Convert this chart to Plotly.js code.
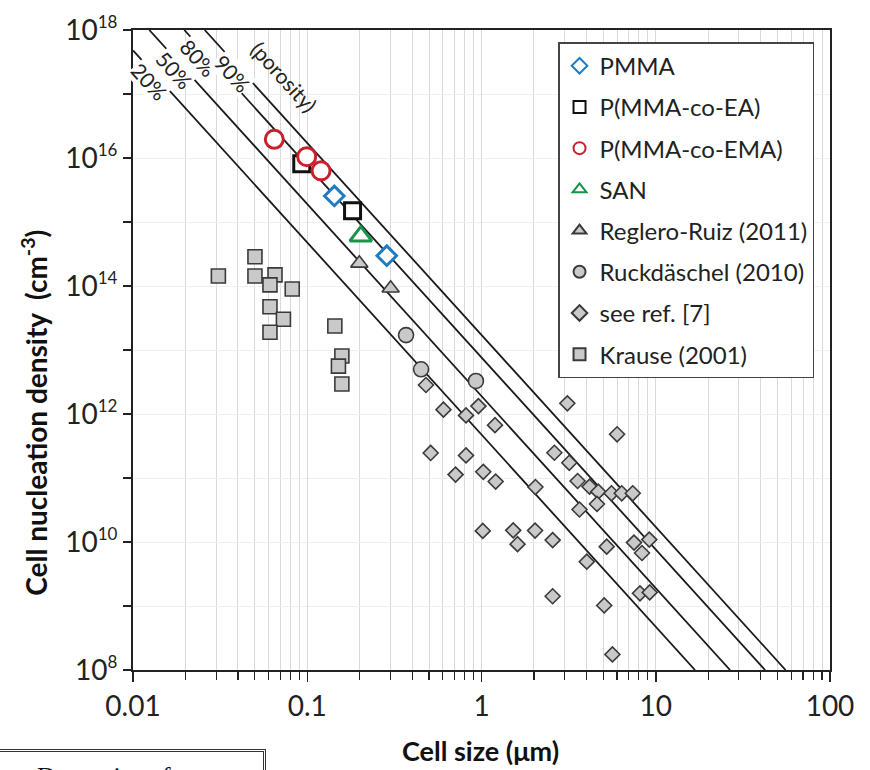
<!DOCTYPE html>
<html><head><meta charset="utf-8">
<script src="https://cdn.plot.ly/plotly-3.0.1.min.js"></script>
<style>
html,body{margin:0;padding:0;background:#fff;overflow:hidden;width:870px;height:770px;}
#chart{position:absolute;left:0;top:0;width:870px;height:770px;}
#note{position:absolute;left:-4px;top:749px;width:270px;height:60px;border:3px double #333;box-sizing:border-box;font-family:"Liberation Serif",serif;font-size:26px;line-height:26px;color:#111;padding-left:38px;padding-top:12px;}
</style></head>
<body>
<div id="chart"></div>
<div id="note">Dynamics of</div>
<script>
// ---- data ----
const pmmaX = [0.143, 0.286];
const pmmaY = [2.55e15, 2.97e14];
const eaX = [0.093, 0.182];
const eaY = [8.1e15, 1.50e15];
const emaX = [0.0647, 0.0993, 0.12];
const emaY = [1.96e16, 1.05e16, 6.3e15];
const sanX = [0.203];
const sanY = [6.0e14];
const regleroX = [0.199, 0.301];
const regleroY = [2.26e14, 9.2e13];
const ruckX = [0.369, 0.450, 0.929];
const ruckY = [1.71e13, 4.99e12, 3.28e12];
const refX = [0.480, 0.605, 0.815, 0.960, 1.195, 3.11, 6.0, 0.511, 0.815, 0.710, 1.024, 1.206, 2.62, 3.19, 3.56, 4.17, 4.68, 5.57, 6.38, 7.38, 2.04, 3.65, 4.60, 1.017, 1.52, 1.61, 2.03, 2.56, 5.23, 7.50, 9.18, 8.34, 4.02, 2.56, 5.06, 8.12, 9.23, 5.64];
const refY = [2.84e12, 1.17e12, 9.5e11, 1.33e12, 6.7e11, 1.47e12, 4.82e11, 2.46e11, 2.25e11, 1.13e11, 1.25e11, 8.8e10, 2.48e11, 1.73e11, 8.98e10, 7.31e10, 6.11e10, 5.77e10, 5.77e10, 5.77e10, 7.23e10, 3.22e10, 3.93e10, 1.49e10, 1.52e10, 9.25e9, 1.51e10, 1.07e10, 8.45e9, 9.8e9, 1.09e10, 6.73e9, 4.92e9, 1.42e9, 1.02e9, 1.58e9, 1.63e9, 1.75e8];
const krauseX = [0.0309, 0.0501, 0.0501, 0.0653, 0.0611, 0.082, 0.0611, 0.073, 0.0611, 0.144, 0.158, 0.151, 0.158];
const krauseY = [1.43e14, 2.87e14, 1.43e14, 1.49e14, 1.04e14, 8.98e13, 4.75e13, 3.02e13, 1.89e13, 2.37e13, 8.06e12, 5.6e12, 2.94e12];

// porosity lines (straight in log-log): start and end points
const porosityNames = ['20%', '50%', '80%', '90%'];
const poroStartX = [0.01, 0.0124, 0.0197, 0.0258];
const poroStartY = [4.8e17, 1e18, 1e18, 1e18];
const poroEndX = [16.8, 26.7, 42.4, 55.6];
const poroEndY = [1e8, 1e8, 1e8, 1e8];
const poroLabelX = [0.01284, 0.01766, 0.02427, 0.03846];

const xTickVals = [0.01, 0.1, 1, 10, 100];
const xTickText = ['0.01', '0.1', '1', '10', '100'];
const yLabelExp = [8, 10, 12, 14, 16, 18];
const yMinorExp = [9, 11, 13, 15, 17];

// ---- build ----
const FONT = 'Lato, "Open Sans", sans-serif';
const traces = [];
porosityNames.forEach((n, i) => {
  traces.push({x: [poroStartX[i], poroEndX[i]], y: [poroStartY[i], poroEndY[i]], mode: 'lines',
    line: {color: '#1a1a1a', width: 1.8}, showlegend: false, hoverinfo: 'skip'});
});
const gFill = '#c9c9c9', gLine = '#3a3a3a';
function mk(name, x, y, rank, marker) {
  return {x, y, name, mode: 'markers', legendgroup: 'g' + rank, legendrank: rank, marker, cliponaxis: false};
}
traces.push(mk('Krause (2001)', krauseX, krauseY, 8, {symbol: 'square', size: 14, color: gFill, line: {color: gLine, width: 1.6}}));
traces.push(mk('see ref. [7]', refX, refY, 7, {symbol: 'diamond', size: 11.5, color: gFill, line: {color: gLine, width: 1.6}}));
traces.push(mk('Ruckdäschel (2010)', ruckX, ruckY, 6, {symbol: 'circle', size: 15, color: gFill, line: {color: gLine, width: 1.6}}));
traces.push(mk('Reglero-Ruiz (2011)', regleroX, regleroY, 5, {symbol: 'triangle-up', size: 15, color: gFill, line: {color: gLine, width: 1.6}}));
traces.push(mk('SAN', sanX, sanY, 4, {symbol: 'triangle-up', size: 19, color: 'white', line: {color: '#179447', width: 3}}));
traces.push(mk('PMMA', pmmaX, pmmaY, 1, {symbol: 'diamond', size: 15, color: 'white', line: {color: '#1f7bc4', width: 3}}));
traces.push(mk('P(MMA-co-EA)', eaX, eaY, 2, {symbol: 'square', size: 16, color: 'white', line: {color: '#111', width: 3}}));
traces.push(mk('P(MMA-co-EMA)', emaX, emaY, 3, {symbol: 'circle', size: 18, color: 'white', line: {color: '#c8202c', width: 3}}));

const minorX = [];
for (let e = -2; e < 2; e++) for (let m = 2; m <= 9; m++) minorX.push(m * Math.pow(10, e));

const yTickVals = yLabelExp.map(e => Math.pow(10, e));
const yTickText = yLabelExp.map(e => '10<sup><span style="font-size:17px">' + e + '</span></sup>');
const yMinorVals = yMinorExp.map(e => Math.pow(10, e));

const annotations = [];
porosityNames.forEach((n, i) => {
  const lx0 = Math.log10(poroStartX[i]), lx1 = Math.log10(poroEndX[i]);
  const ly0 = Math.log10(poroStartY[i]), ly1 = Math.log10(poroEndY[i]);
  const lx = Math.log10(poroLabelX[i]);
  const ly = ly0 + (ly1 - ly0) * (lx - lx0) / (lx1 - lx0);
  annotations.push({x: lx, y: ly, xref: 'x', yref: 'y', text: n, showarrow: false, textangle: 47.8,
    yshift: -10, xshift: -2, bgcolor: 'white', borderpad: 0, font: {family: FONT, size: 21, color: '#222'}});
});
annotations.push({x: -1.1334, y: 17.266, xref: 'x', yref: 'y', text: '(porosity)', showarrow: false, textangle: 47.8,
  font: {family: FONT, size: 21, color: '#222'}});
annotations.push({x: -0.1406, y: 0.402, xref: 'paper', yref: 'paper', xanchor: 'center', yanchor: 'middle',
  text: 'Cell nucleation density  (cm<sup>-3</sup>)',
  textangle: -90, showarrow: false, font: {family: FONT, size: 28, color: '#111', weight: 'bold'}});
annotations.push({x: 0.498, y: -0.125, xref: 'paper', yref: 'paper', xanchor: 'center', yanchor: 'middle',
  text: 'Cell size (μm)', showarrow: false,
  font: {family: FONT, size: 27, color: '#111', weight: 'bold'}});

const layout = {
  width: 870, height: 770,
  margin: {l: 133, r: 40, t: 30, b: 100},
  paper_bgcolor: 'white', plot_bgcolor: 'white',
  font: {family: FONT, color: '#222'},
  showlegend: true,
  legend: {x: 0.6098, y: 0.981, xanchor: 'left', yanchor: 'top', bgcolor: 'white', bordercolor: '#444', borderwidth: 1.5,
    font: {family: FONT, size: 24, color: '#222'}, tracegroupgap: 7, itemsizing: 'constant', traceorder: 'grouped'},
  xaxis: {type: 'log', range: [-2, 2], tickmode: 'array', tickvals: xTickVals, ticktext: xTickText,
    ticks: 'outside', ticklen: 10, tickwidth: 1.5, tickcolor: '#222',
    showline: true, linecolor: '#222', linewidth: 2, mirror: true,
    showgrid: true, gridcolor: '#dadada', gridwidth: 1, zeroline: false,
    tickfont: {family: FONT, size: 28, color: '#222'},
    minor: {tickmode: 'array', tickvals: minorX, ticks: 'outside', ticklen: 8, tickwidth: 1.2, tickcolor: '#222', showgrid: true, gridcolor: '#dadada', gridwidth: 1}},
  yaxis: {type: 'log', range: [8, 18], tickmode: 'array', tickvals: yTickVals, ticktext: yTickText,
    ticks: 'outside', ticklen: 8, tickwidth: 1.5, tickcolor: '#222',
    showline: true, linecolor: '#222', linewidth: 2, mirror: true,
    showgrid: true, gridcolor: '#efefef', gridwidth: 1, zeroline: false,
    tickfont: {family: FONT, size: 28, color: '#222'},
    minor: {tickmode: 'array', tickvals: yMinorVals, ticks: 'outside', ticklen: 8, tickwidth: 1.5, tickcolor: '#222', showgrid: true, gridcolor: '#efefef', gridwidth: 1}},
  annotations
};
Plotly.newPlot('chart', traces, layout, {staticPlot: true, displayModeBar: false});
</script>
</body></html>
